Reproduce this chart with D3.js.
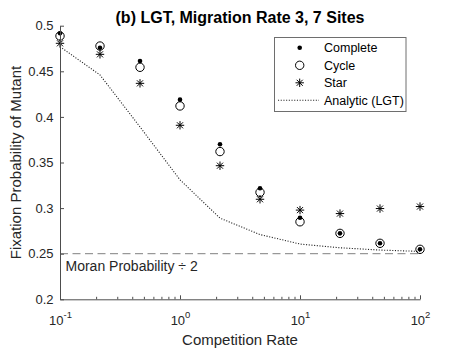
<!DOCTYPE html>
<html>
<head>
<meta charset="utf-8">
<script src="https://cdn.jsdelivr.net/npm/d3@7"></script>
<style>
  html, body { margin: 0; padding: 0; background: #fff; }
  svg { display: block; }
  text { font-family: "Liberation Sans", Arial, Helvetica, sans-serif; }
</style>
</head>
<body>
<svg id="chart" width="464" height="348"></svg>
<script>
// ---- data ----
const competitionRates = [0.1, 0.2154, 0.4642, 1, 2.154, 4.642, 10, 21.54, 46.42, 100];
const completeValues = [0.4917, 0.4759, 0.4613, 0.4189, 0.370, 0.3217, 0.2895, 0.2723, 0.2614, 0.2548];
const cycleValues    = [0.4887, 0.4777, 0.4544, 0.4120, 0.362, 0.3173, 0.2850, 0.2723, 0.2614, 0.2548];
const starValues     = [0.4807, 0.4686, 0.4368, 0.3908, 0.3465, 0.3097, 0.2978, 0.2940, 0.2995, 0.3017];
const analyticValues = [0.477, 0.446, 0.389, 0.331, 0.289, 0.271, 0.2606, 0.2565, 0.2540, 0.2525];
const moranHalf = 0.25;
const xTickValues = [0.1, 1, 10, 100];
const xTickExponents = ["-1", "0", "1", "2"];
const yTickValues = [0.2, 0.25, 0.3, 0.35, 0.4, 0.45, 0.5];
const yTickLabels = ["0.2", "0.25", "0.3", "0.35", "0.4", "0.45", "0.5"];
const legendLabels = ["Complete", "Cycle", "Star", "Analytic (LGT)"];
const titleText = "(b) LGT, Migration Rate 3, 7 Sites";
const xLabel = "Competition Rate";
const yLabel = "Fixation Probability of Mutant";
const moranLabel = "Moran Probability \u00F7 2";

// ---- layout ----
const svg = d3.select("#chart");
const x = d3.scaleLog().domain([0.1, 100]).range([60, 420]);
const y = d3.scaleLinear().domain([0.2, 0.5]).range([299.3, 25.7]);
const axisColor = "#4d4d4d";
const textColor = "#262626";

// Moran dashed line
svg.append("line")
  .attr("x1", x(0.1)).attr("x2", x(100))
  .attr("y1", y(moranHalf)).attr("y2", y(moranHalf))
  .attr("stroke", "#808080").attr("stroke-width", 1)
  .attr("stroke-dasharray", "8,4.5");

svg.append("text")
  .attr("x", 65.5).attr("y", y(moranHalf) + 17.5)
  .attr("font-size", 14).attr("fill", textColor)
  .text(moranLabel);

// analytic dotted line
const lineGen = d3.line().x((d, i) => x(competitionRates[i])).y(d => y(d));
svg.append("path")
  .datum(analyticValues)
  .attr("d", lineGen)
  .attr("fill", "none")
  .attr("stroke", "#222")
  .attr("stroke-width", 1.1)
  .attr("stroke-dasharray", "1.1,1.6");

// markers
function starPath(cx, cy, r) {
  const d = r * 0.72;
  return `M${cx - r},${cy}L${cx + r},${cy}M${cx},${cy - r}L${cx},${cy + r}` +
         `M${cx - d},${cy - d}L${cx + d},${cy + d}M${cx - d},${cy + d}L${cx + d},${cy - d}`;
}

svg.append("g").selectAll("path")
  .data(starValues)
  .join("path")
  .attr("d", (d, i) => starPath(x(competitionRates[i]), y(d), 4.2))
  .attr("stroke", "#000").attr("stroke-width", 1).attr("fill", "none");

svg.append("g").selectAll("circle")
  .data(cycleValues)
  .join("circle")
  .attr("cx", (d, i) => x(competitionRates[i]))
  .attr("cy", d => y(d))
  .attr("r", 4.2)
  .attr("fill", "none").attr("stroke", "#000").attr("stroke-width", 1);

svg.append("g").selectAll("circle")
  .data(completeValues)
  .join("circle")
  .attr("cx", (d, i) => x(competitionRates[i]))
  .attr("cy", d => y(d))
  .attr("r", 2.3)
  .attr("fill", "#000");

// y axis
const yAxis = d3.axisLeft(y)
  .tickValues(yTickValues)
  .tickFormat((d, i) => yTickLabels[i])
  .tickSizeInner(-4).tickSizeOuter(0).tickPadding(6.5);
const gy = svg.append("g").attr("transform", `translate(${x(0.1)},0)`).call(yAxis);
gy.select(".domain").attr("stroke", axisColor);
gy.selectAll(".tick line").attr("stroke", axisColor);
gy.selectAll(".tick text").attr("font-size", 13).attr("fill", textColor)
  .attr("font-family", "Liberation Sans, Arial, sans-serif");

// x axis minor ticks
const minorTicks = [];
xTickValues.slice(0, -1).forEach(v => { for (let k = 2; k <= 9; k++) minorTicks.push(v * k); });
const xMinor = d3.axisBottom(x).tickValues(minorTicks).tickFormat("")
  .tickSizeInner(-2.5).tickSizeOuter(0);
const gxm = svg.append("g").attr("transform", `translate(0,${y(0.2)})`).call(xMinor);
gxm.select(".domain").remove();
gxm.selectAll(".tick line").attr("stroke", axisColor);

// x axis major
const xAxis = d3.axisBottom(x).tickValues(xTickValues).tickFormat("")
  .tickSizeInner(-4).tickSizeOuter(0).tickPadding(0);
const gx = svg.append("g").attr("transform", `translate(0,${y(0.2)})`).call(xAxis);
gx.select(".domain").attr("stroke", axisColor);
gx.selectAll(".tick line").attr("stroke", axisColor);
gx.selectAll(".tick text").remove();
gx.selectAll(".tick").each(function(d, i) {
  const t = d3.select(this).append("text")
    .attr("x", 0).attr("y", 25.7)
    .attr("text-anchor", "middle")
    .attr("font-size", 13).attr("fill", textColor)
    .attr("font-family", "Liberation Sans, Arial, sans-serif");
  t.append("tspan").text("10");
  t.append("tspan").attr("dy", -6.5).attr("font-size", 9.5).text(xTickExponents[i]);
});

// title and axis labels
svg.append("text")
  .attr("x", 240).attr("y", 22.5)
  .attr("text-anchor", "middle")
  .attr("font-size", 16).attr("font-weight", "bold").attr("fill", "#000")
  .text(titleText);

svg.append("text")
  .attr("x", 240).attr("y", 345)
  .attr("text-anchor", "middle")
  .attr("font-size", 15).attr("fill", textColor)
  .text(xLabel);

svg.append("text")
  .attr("transform", `translate(20.5,${(y(0.2) + y(0.5)) / 2}) rotate(-90)`)
  .attr("text-anchor", "middle")
  .attr("font-size", 15).attr("fill", textColor)
  .text(yLabel);

// legend
const lg = svg.append("g");
lg.append("rect")
  .attr("x", 274.5).attr("y", 37.5).attr("width", 131.5).attr("height", 74)
  .attr("fill", "#fff").attr("stroke", "#6e6e6e").attr("stroke-width", 1);
const rowY = i => 47.8 + i * 17.5;
const mx = 299.7;
lg.append("circle").attr("cx", mx).attr("cy", rowY(0)).attr("r", 2.3).attr("fill", "#000");
lg.append("circle").attr("cx", mx).attr("cy", rowY(1)).attr("r", 4.2)
  .attr("fill", "none").attr("stroke", "#000").attr("stroke-width", 1);
lg.append("path").attr("d", starPath(mx, rowY(2), 4.2))
  .attr("stroke", "#000").attr("stroke-width", 1).attr("fill", "none");
lg.append("line").attr("x1", 278).attr("x2", 319).attr("y1", rowY(3)).attr("y2", rowY(3))
  .attr("stroke", "#222").attr("stroke-width", 1.1).attr("stroke-dasharray", "1.1,1.6");
lg.selectAll("text.lab")
  .data(legendLabels)
  .join("text")
  .attr("class", "lab")
  .attr("x", 324).attr("y", (d, i) => rowY(i))
  .attr("dy", "0.35em")
  .attr("font-size", 12.5).attr("fill", "#000")
  .text(d => d);
</script>
</body>
</html>
